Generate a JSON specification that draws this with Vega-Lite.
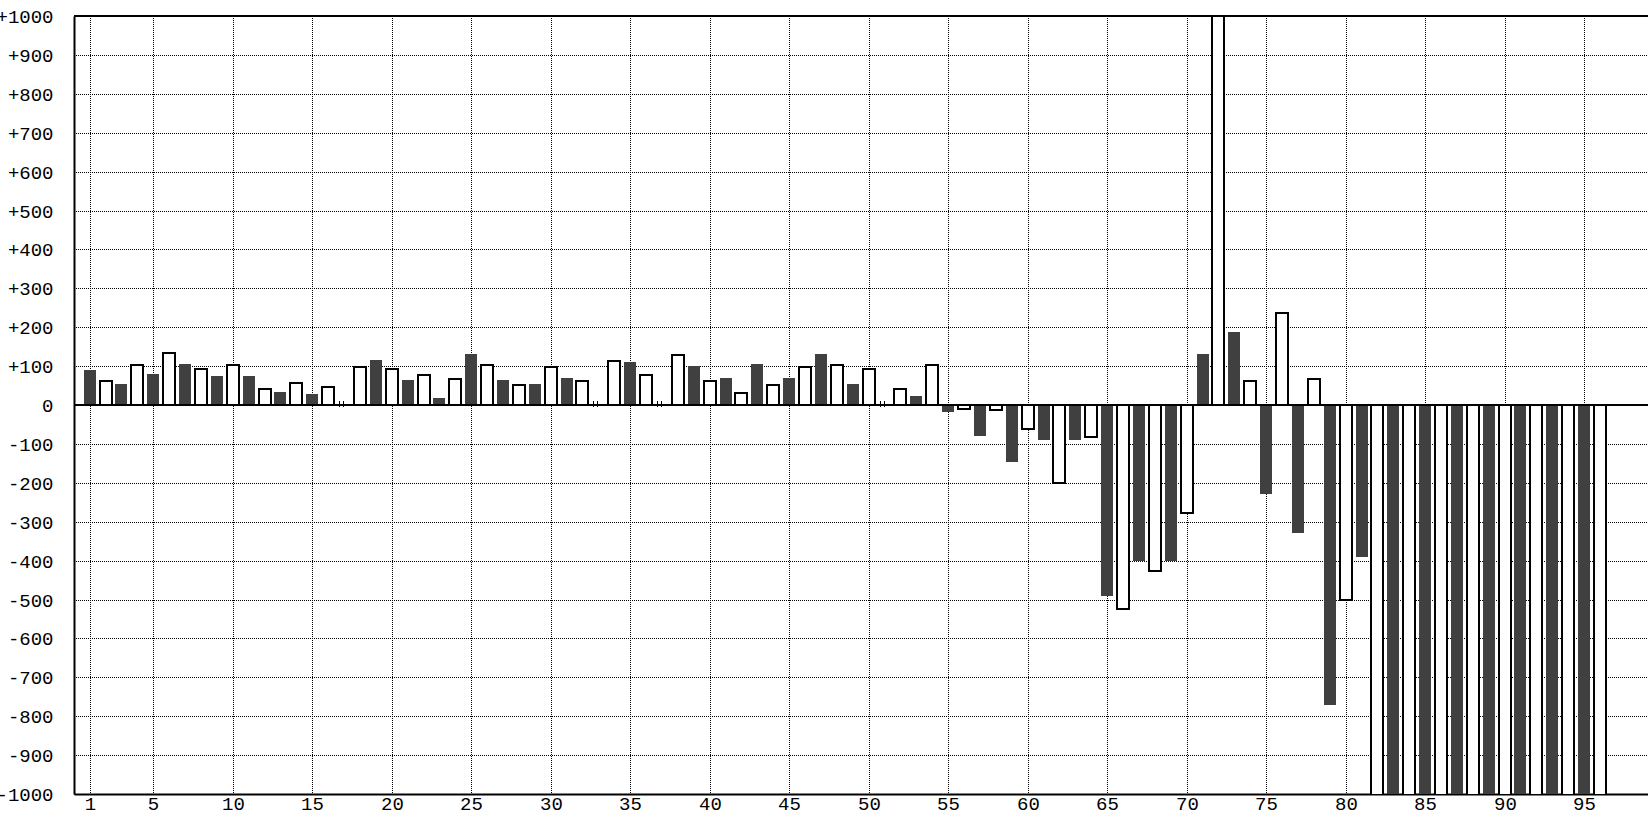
{
  "$schema": "https://vega.github.io/schema/vega-lite/v6.json",
  "width": 1574,
  "height": 778,
  "autosize": {"type": "none"},
  "padding": {"left": 74, "top": 16, "right": 0, "bottom": 20},
  "background": "white",
  "view": {"stroke": null},
  "config": {
    "axis": {
      "grid": true,
      "gridColor": "black",
      "gridDash": [1, 1],
      "gridDashOffset": 0.5,
      "gridWidth": 1,
      "gridOpacity": 1,
      "ticks": false,
      "tickSize": 0,
      "domainColor": "black",
      "domainWidth": 2,
      "labelFont": "Liberation Mono",
      "labelFontSize": 19,
      "labelColor": "black",
      "labelFlush": false,
      "labelOverlap": false,
      "title": null
    }
  },
  "data": {
    "values": [
      {"i": 1, "v": 90, "s": "A"}, {"i": 2, "v": 62, "s": "B"}, {"i": 3, "v": 54, "s": "A"}, {"i": 4, "v": 103, "s": "B"},
      {"i": 5, "v": 80, "s": "A"}, {"i": 6, "v": 134, "s": "B"}, {"i": 7, "v": 106, "s": "A"}, {"i": 8, "v": 93, "s": "B"},
      {"i": 9, "v": 75, "s": "A"}, {"i": 10, "v": 103, "s": "B"}, {"i": 11, "v": 75, "s": "A"}, {"i": 12, "v": 42, "s": "B"},
      {"i": 13, "v": 34, "s": "A"}, {"i": 14, "v": 57, "s": "B"}, {"i": 15, "v": 29, "s": "A"}, {"i": 16, "v": 47, "s": "B"},
      {"i": 17, "v": 0, "s": "A"}, {"i": 18, "v": 98, "s": "B"}, {"i": 19, "v": 115, "s": "A"}, {"i": 20, "v": 93, "s": "B"},
      {"i": 21, "v": 65, "s": "A"}, {"i": 22, "v": 77, "s": "B"}, {"i": 23, "v": 18, "s": "A"}, {"i": 24, "v": 67, "s": "B"},
      {"i": 25, "v": 131, "s": "A"}, {"i": 26, "v": 103, "s": "B"}, {"i": 27, "v": 65, "s": "A"}, {"i": 28, "v": 52, "s": "B"},
      {"i": 29, "v": 54, "s": "A"}, {"i": 30, "v": 98, "s": "B"}, {"i": 31, "v": 69, "s": "A"}, {"i": 32, "v": 61, "s": "B"},
      {"i": 33, "v": 0, "s": "A"}, {"i": 34, "v": 114, "s": "B"}, {"i": 35, "v": 110, "s": "A"}, {"i": 36, "v": 77, "s": "B"},
      {"i": 37, "v": 0, "s": "A"}, {"i": 38, "v": 129, "s": "B"}, {"i": 39, "v": 100, "s": "A"}, {"i": 40, "v": 61, "s": "B"},
      {"i": 41, "v": 69, "s": "A"}, {"i": 42, "v": 31, "s": "B"}, {"i": 43, "v": 105, "s": "A"}, {"i": 44, "v": 52, "s": "B"},
      {"i": 45, "v": 69, "s": "A"}, {"i": 46, "v": 98, "s": "B"}, {"i": 47, "v": 131, "s": "A"}, {"i": 48, "v": 103, "s": "B"},
      {"i": 49, "v": 54, "s": "A"}, {"i": 50, "v": 93, "s": "B"}, {"i": 51, "v": 0, "s": "A"}, {"i": 52, "v": 42, "s": "B"},
      {"i": 53, "v": 23, "s": "A"}, {"i": 54, "v": 103, "s": "B"}, {"i": 55, "v": -18, "s": "A"}, {"i": 56, "v": -11, "s": "B"},
      {"i": 57, "v": -80, "s": "A"}, {"i": 58, "v": -14, "s": "B"}, {"i": 59, "v": -147, "s": "A"}, {"i": 60, "v": -62, "s": "B"},
      {"i": 61, "v": -90, "s": "A"}, {"i": 62, "v": -200, "s": "B"}, {"i": 63, "v": -91, "s": "A"}, {"i": 64, "v": -82, "s": "B"},
      {"i": 65, "v": -492, "s": "A"}, {"i": 66, "v": -525, "s": "B"}, {"i": 67, "v": -400, "s": "A"}, {"i": 68, "v": -428, "s": "B"},
      {"i": 69, "v": -400, "s": "A"}, {"i": 70, "v": -278, "s": "B"}, {"i": 71, "v": 131, "s": "A"}, {"i": 72, "v": 1200, "s": "B"},
      {"i": 73, "v": 187, "s": "A"}, {"i": 74, "v": 62, "s": "B"}, {"i": 75, "v": -230, "s": "A"}, {"i": 76, "v": 236, "s": "B"},
      {"i": 77, "v": -328, "s": "A"}, {"i": 78, "v": 66, "s": "B"}, {"i": 79, "v": -770, "s": "A"}, {"i": 80, "v": -500, "s": "B"},
      {"i": 81, "v": -390, "s": "A"}, {"i": 82, "v": -1100, "s": "B"}, {"i": 83, "v": -1100, "s": "A"}, {"i": 84, "v": -1100, "s": "B"},
      {"i": 85, "v": -1100, "s": "A"}, {"i": 86, "v": -1100, "s": "B"}, {"i": 87, "v": -1100, "s": "A"}, {"i": 88, "v": -1100, "s": "B"},
      {"i": 89, "v": -1100, "s": "A"}, {"i": 90, "v": -1100, "s": "B"}, {"i": 91, "v": -1100, "s": "A"}, {"i": 92, "v": -1100, "s": "B"},
      {"i": 93, "v": -1100, "s": "A"}, {"i": 94, "v": -1100, "s": "B"}, {"i": 95, "v": -1100, "s": "A"}, {"i": 96, "v": -1100, "s": "B"}
    ]
  },
  "layer": [
    {
      "mark": {"type": "bar", "width": 12, "clip": true, "stroke": "black"},
      "encoding": {
        "x": {
          "field": "i",
          "type": "quantitative",
          "scale": {"domain": [0.331, 98.706], "nice": false, "zero": false, "round": true},
          "axis": {"values": [1, 5, 10, 15, 20, 25, 30, 35, 40, 45, 50, 55, 60, 65, 70, 75, 80, 85, 90, 95], "labelPadding": 0}
        },
        "y": {
          "field": "v",
          "type": "quantitative",
          "scale": {"domain": [-1000, 1000], "nice": false, "round": true},
          "axis": {
            "values": [-1000, -900, -800, -700, -600, -500, -400, -300, -200, -100, 0, 100, 200, 300, 400, 500, 600, 700, 800, 900, 1000],
            "labelExpr": "datum.value > 0 ? '+' + datum.value : '' + datum.value",
            "labelPadding": 21
          }
        },
        "fill": {"field": "s", "type": "nominal", "scale": {"domain": ["A", "B"], "range": ["#404040", "white"]}, "legend": null},
        "strokeWidth": {"condition": {"test": "datum.s === 'B'", "value": 2}, "value": 0}
      }
    },
    {
      "transform": [{"filter": "datum.v === 0"}],
      "mark": {"type": "rule", "xOffset": -4.5, "strokeWidth": 1, "color": "black"},
      "encoding": {
        "x": {"field": "i", "type": "quantitative", "axis": {"values": [1, 5, 10, 15, 20, 25, 30, 35, 40, 45, 50, 55, 60, 65, 70, 75, 80, 85, 90, 95], "labelPadding": 0}},
        "y": {"datum": -6, "axis": {
            "values": [-1000, -900, -800, -700, -600, -500, -400, -300, -200, -100, 0, 100, 200, 300, 400, 500, 600, 700, 800, 900, 1000],
            "labelExpr": "datum.value > 0 ? '+' + datum.value : '' + datum.value",
            "labelPadding": 21
          }},
        "y2": {"datum": 9}
      }
    },
    {
      "transform": [{"filter": "datum.v === 0"}],
      "mark": {"type": "rule", "xOffset": -0.5, "strokeWidth": 1, "color": "black"},
      "encoding": {
        "x": {"field": "i", "type": "quantitative", "axis": {"values": [1, 5, 10, 15, 20, 25, 30, 35, 40, 45, 50, 55, 60, 65, 70, 75, 80, 85, 90, 95], "labelPadding": 0}},
        "y": {"datum": -6, "axis": {
            "values": [-1000, -900, -800, -700, -600, -500, -400, -300, -200, -100, 0, 100, 200, 300, 400, 500, 600, 700, 800, 900, 1000],
            "labelExpr": "datum.value > 0 ? '+' + datum.value : '' + datum.value",
            "labelPadding": 21
          }},
        "y2": {"datum": 9}
      }
    },
    {
      "data": {"values": [{}]},
      "mark": {"type": "rule", "strokeWidth": 2, "color": "black"},
      "encoding": {"y": {"datum": 0, "axis": {
            "values": [-1000, -900, -800, -700, -600, -500, -400, -300, -200, -100, 0, 100, 200, 300, 400, 500, 600, 700, 800, 900, 1000],
            "labelExpr": "datum.value > 0 ? '+' + datum.value : '' + datum.value",
            "labelPadding": 21
          }}}
    },
    {
      "data": {"values": [{}]},
      "mark": {"type": "rule", "strokeWidth": 2, "color": "black"},
      "encoding": {"y": {"datum": 1000, "axis": {
            "values": [-1000, -900, -800, -700, -600, -500, -400, -300, -200, -100, 0, 100, 200, 300, 400, 500, 600, 700, 800, 900, 1000],
            "labelExpr": "datum.value > 0 ? '+' + datum.value : '' + datum.value",
            "labelPadding": 21
          }}}
    }
  ]
}
